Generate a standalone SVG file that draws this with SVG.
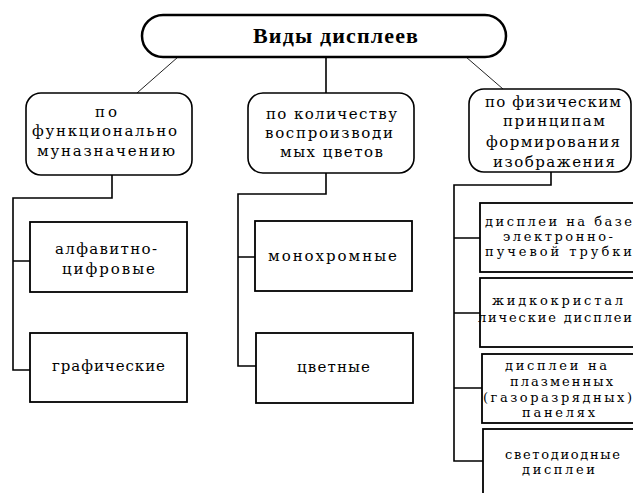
<svg xmlns="http://www.w3.org/2000/svg" width="633" height="493" viewBox="0 0 633 493">
<style>
.bg{fill:#ffffff}
.title{fill:#ffffff;stroke:#000;stroke-width:2.5}
.rnd{fill:#ffffff;stroke:#000;stroke-width:1.6}
.box{fill:#ffffff;stroke:#000;stroke-width:1.8}
.conn{fill:none;stroke:#000;stroke-width:1.6}
.diag{fill:none;stroke:#222;stroke-width:1}
.t{font-family:"DejaVu Serif","Liberation Serif",serif;font-size:15px;fill:#000}
.s{font-family:"DejaVu Serif","Liberation Serif",serif;font-size:13px;fill:#000}
.h{font-family:"Liberation Serif","DejaVu Serif",serif;font-size:22px;font-weight:bold;fill:#000}
</style>
<rect class="bg" x="0" y="0" width="633" height="493"/>
<g id="connectors">
  <path class="diag" d="M178,57 L137,93"/>
  <path class="conn" d="M326,57 V93"/>
  <path class="diag" d="M466,57 L503,89"/>
  <path class="conn" d="M112,175 V198 H13 V370 H30 M13,261 H30"/>
  <path class="conn" d="M326,173 V194 H238 V366 H256 M238,257 H255"/>
  <path class="conn" d="M551,172 V185 H454 V461 H483 M454,238 H480 M454,313 H480 M454,388 H482"/>
</g>
<g id="root">
  <rect class="title" x="142" y="15" width="364" height="42" rx="21" ry="21"/>
  <text class="h" x="253" y="43" textLength="165" lengthAdjust="spacing">Виды дисплеев</text>
</g>
<g id="func">
  <rect class="rnd" x="26" y="93" width="166" height="82" rx="15" ry="15"/>
  <text class="t" x="95" y="117" textLength="22" lengthAdjust="spacing">по</text>
  <text class="t" x="32" y="136" textLength="145" lengthAdjust="spacing">функционально</text>
  <text class="t" x="37" y="156" textLength="138" lengthAdjust="spacing">муназначению</text>
</g>
<g id="colors">
  <rect class="rnd" x="248" y="93" width="166" height="80" rx="15" ry="15"/>
  <text class="t" x="266" y="119" textLength="131" lengthAdjust="spacing">по количеству</text>
  <text class="t" x="265" y="138" textLength="128" lengthAdjust="spacing">воспроизводи</text>
  <text class="t" x="280" y="157" textLength="103" lengthAdjust="spacing">мых цветов</text>
</g>
<g id="phys">
  <rect class="rnd" x="469" y="89" width="162" height="83" rx="15" ry="15"/>
  <text class="t" x="485" y="107" textLength="136" lengthAdjust="spacing">по физическим</text>
  <text class="t" x="503" y="126" textLength="102" lengthAdjust="spacing">принципам</text>
  <text class="t" x="486" y="147" textLength="134" lengthAdjust="spacing">формирования</text>
  <text class="t" x="493" y="167" textLength="122" lengthAdjust="spacing">изображения</text>
</g>
<g id="alnum">
  <rect class="box" x="30" y="222" width="157" height="70"/>
  <text class="t" x="55" y="254" textLength="102" lengthAdjust="spacing">алфавитно-</text>
  <text class="t" x="62" y="274" textLength="93" lengthAdjust="spacing">цифровые</text>
</g>
<g id="graph">
  <rect class="box" x="30" y="333" width="157" height="69"/>
  <text class="t" x="52" y="371" textLength="113" lengthAdjust="spacing">графические</text>
</g>
<g id="mono">
  <rect class="box" x="255" y="221" width="157" height="70"/>
  <text class="t" x="268" y="261" textLength="129" lengthAdjust="spacing">монохромные</text>
</g>
<g id="color">
  <rect class="box" x="256" y="333" width="157" height="70"/>
  <text class="t" x="297" y="372" textLength="73" lengthAdjust="spacing">цветные</text>
</g>
<g id="crt">
  <rect class="box" x="480" y="203" width="170" height="69"/>
  <text class="s" x="485" y="226" textLength="147" lengthAdjust="spacing">дисплеи на базе</text>
  <text class="s" x="503" y="241" textLength="110" lengthAdjust="spacing">электронно-</text>
  <text class="s" x="485" y="256" textLength="147" lengthAdjust="spacing">пучевой трубки</text>
</g>
<g id="lcd">
  <rect class="box" x="480" y="278" width="170" height="69"/>
  <text class="s" x="492" y="305" textLength="131" lengthAdjust="spacing">жидкокристал</text>
  <text class="s" x="478" y="322" textLength="154" lengthAdjust="spacing">лические дисплеи</text>
</g>
<g id="plasma">
  <rect class="box" x="482" y="354" width="170" height="69"/>
  <text class="s" x="505" y="370" textLength="102" lengthAdjust="spacing">дисплеи на</text>
  <text class="s" x="510" y="386" textLength="103" lengthAdjust="spacing">плазменных</text>
  <text class="s" x="483" y="402" textLength="149" lengthAdjust="spacing">(газоразрядных)</text>
  <text class="s" x="522" y="417" textLength="73" lengthAdjust="spacing">панелях</text>
</g>
<g id="led">
  <rect class="box" x="483" y="429" width="170" height="80"/>
  <text class="s" x="505" y="459" textLength="115" lengthAdjust="spacing">светодиодные</text>
  <text class="s" x="522" y="474" textLength="73" lengthAdjust="spacing">дисплеи</text>
</g>
</svg>
